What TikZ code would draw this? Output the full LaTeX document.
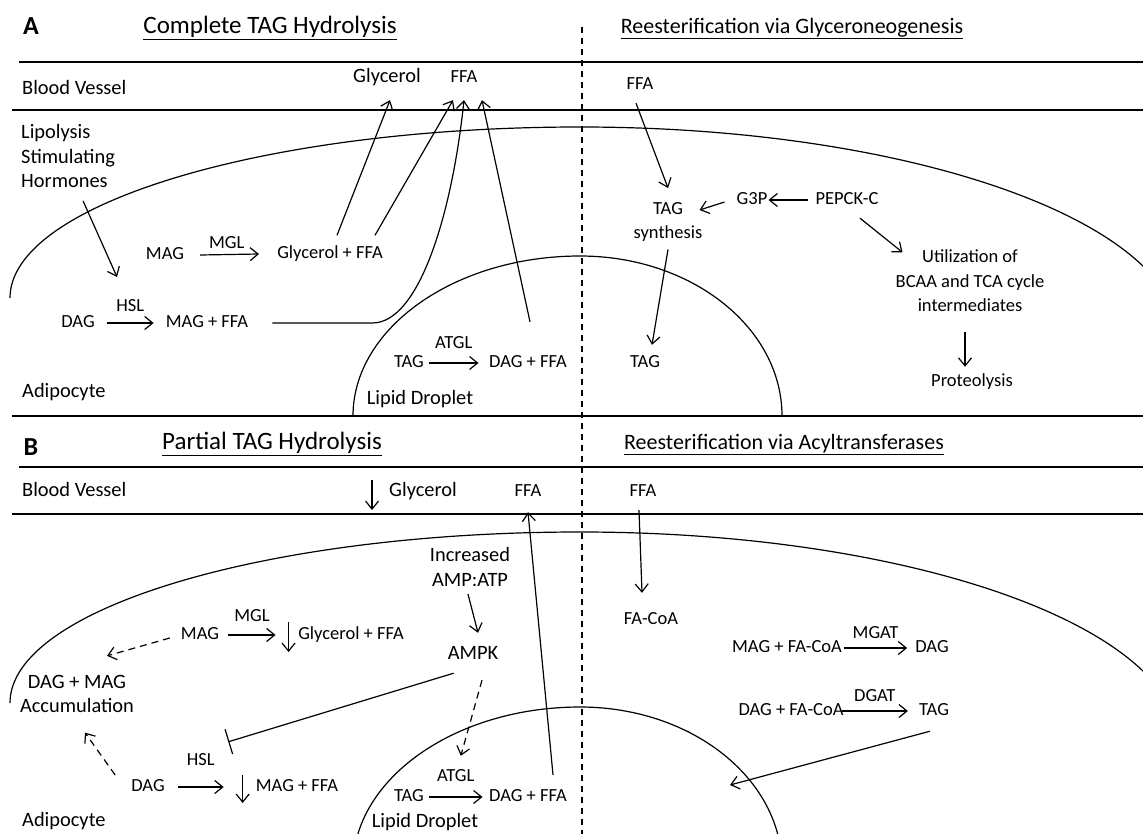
\documentclass[tikz,border=0pt]{standalone}
\usepackage{fontspec}
\setmainfont{Carlito}
\usetikzlibrary{arrows.meta}
\newcommand\bodysize{\fontsize{18.5}{24.5}\selectfont}
\newcommand\bigsize{\fontsize{20.4}{24.5}\selectfont}
\newcommand\titlesize{\fontsize{25}{30}\selectfont}
\newcommand\subtitlesize{\fontsize{22}{28}\selectfont}

\begin{document}
\begin{tikzpicture}[x=1pt, y=-1pt,
    lbl/.style={font=\bodysize, inner sep=0pt, text height=13pt, text depth=4pt},
    reg/.style={lbl, font=\bigsize},
    blk/.style={font=\bodysize, inner sep=0pt, align=center},
    ttl/.style={font=\titlesize, inner sep=0pt, text height=17pt, text depth=6pt},
    sttl/.style={ttl, font=\subtitlesize},
    pnl/.style={font=\fontsize{26}{30}\selectfont\bfseries, inner sep=0pt},
    arr/.style={-{Straight Barb[length=8pt,width=13pt]}, line width=1.2pt},
    darr/.style={arr, dash pattern=on 7pt off 5pt},
    inh/.style={-{Bar[width=26pt]}, line width=1.2pt},
    mem/.style={line width=1.2pt},
]
\useasboundingbox (0,0) rectangle (1143,834);
\clip (0,0) rectangle (1143,834);

% frame lines
\draw[mem] (19,62) -- (1143,62);
\draw[mem] (12,110) -- (1143,110);
\draw[mem] (12,416) -- (1143,416);
\draw[mem] (19,467) -- (1143,467);
\draw[mem] (12,514) -- (1143,514);
\draw[mem, dash pattern=on 6pt off 5pt] (582,27) -- (582,834);

% cell membranes and lipid droplets
\draw[mem] (10,298) .. controls (10,204) and (265,127) .. (580,127)
    .. controls (911,127) and (1180,222) .. (1180,340);
\draw[mem] (10,703) .. controls (10,609) and (265,532) .. (580,532)
    .. controls (911,532) and (1180,627) .. (1180,745);
\draw[mem] (353,416) .. controls (353,328) and (455,256) .. (580,256)
    .. controls (692,256) and (782,328) .. (782,416);
\draw[mem] (353,867) .. controls (353,779) and (455,707) .. (580,707)
    .. controls (692,707) and (782,779) .. (782,867);

% ---------------- Panel A ----------------
\node[pnl] (pa) at (31,26) {A};
\node[ttl] (ta1) at (270,28) {\underline{Complete TAG Hydrolysis}};
\node[sttl] (ta2) at (792,28) {\underline{Reesterification via Glyceroneogenesis}};
\node[reg, anchor=west] (bvA) at (22,90) {Blood Vessel};
\node[blk, font=\bigsize, align=left, anchor=west] (lshA) at (21,156) {Lipolysis\\Stimulating\\Hormones};
\node[reg] (glyA) at (387,78) {Glycerol};
\node[lbl] (ffaA) at (464,78) {FFA};
\node[lbl] (magA) at (165,255) {MAG};
\node[lbl] (gfA) at (330,254) {Glycerol + FFA};
\node[lbl] (dagA) at (78,323) {DAG};
\node[lbl] (mfA) at (207,323) {MAG + FFA};
\node[reg, anchor=west] (adA) at (22,393) {Adipocyte};
\node[lbl] (tagA) at (409,363) {TAG};
\node[lbl] (dfA) at (528,363) {DAG + FFA};
\node[reg] (ldA) at (420,400) {Lipid Droplet};
\coordinate (lipA) at (117,277);

\node[lbl] (ffaA2) at (640,85) {FFA};
\node[blk] (tsA) at (668,222) {TAG\\synthesis};
\node[lbl] (g3p) at (752,200) {G3P};
\node[lbl] (pep) at (847,200) {PEPCK-C};
\node[blk] (util) at (970,281) {Utilization of\\BCAA and TCA cycle\\intermediates};
\node[lbl] (prot) at (972,382) {Proteolysis};
\node[lbl] (tagA2) at (645,363) {TAG};

\draw[arr] ([xshift=15pt,yshift=-13pt]lshA.south) -- (lipA);
\draw[arr] ([xshift=16pt]magA.east) -- node[lbl, above=1.5pt, pos=0.45] {MGL} ([xshift=-18pt]gfA.west);
\draw[arr] ([xshift=12pt]dagA.east) -- node[lbl, above=6.5pt] {HSL} ([xshift=-12pt]mfA.west);
\draw[arr] ([xshift=5pt]tagA.east) -- node[lbl, above=10pt] {ATGL} ([xshift=-10.5pt]dfA.west);
\draw[arr] ([xshift=7pt,yshift=10pt]gfA.north) -- ([xshift=3pt,yshift=-13.5pt]glyA.south);
\draw[arr] ([xshift=45pt,yshift=10pt]gfA.north) -- ([xshift=-11pt,yshift=-13.5pt]ffaA.south);
\draw[arr] ([xshift=24pt]mfA.east) -- ++(100,0)
    to[out=0, in=-96, out looseness=0.5, in looseness=1.2] ([yshift=-13.5pt]ffaA.south);
\draw[arr] ([xshift=2pt,yshift=32.5pt]dfA.north) -- ([xshift=18pt,yshift=-13.5pt]ffaA.south);

\draw[arr] ([xshift=-4pt,yshift=-9.5pt]ffaA2.south) -- ([yshift=14pt]tsA.north);
\draw[arr] ([xshift=-12pt,yshift=-2pt]g3p.west) -- ([xshift=-3pt,yshift=12pt]tsA.east);
\draw[arr] ([xshift=-7pt]pep.west) -- ([xshift=1pt]g3p.east);
\draw[arr] ([xshift=13pt,yshift=-9.5pt]pep.south) -- ([xshift=7pt,yshift=-2.5pt]util.north west);
\draw[arr] ([xshift=-5pt,yshift=-20pt]util.south) -- ([xshift=-7pt,yshift=6.5pt]prot.north);
\draw[arr] ([yshift=-7.5pt]tsA.south) -- ([xshift=7pt,yshift=9.5pt]tagA2.north);

% ---------------- Panel B ----------------
\node[pnl] (pb) at (31,447) {B};
\node[ttl] (tb1) at (272,444) {\underline{Partial TAG Hydrolysis}};
\node[sttl] (tb2) at (784,444) {\underline{Reesterification via Acyltransferases}};
\node[reg, anchor=west] (bvB) at (22,492) {Blood Vessel};
\node[reg] (glyB) at (423,492) {Glycerol};
\node[lbl] (ffaB) at (528,492) {FFA};
\node[blk, font=\bigsize] (incB) at (470,567) {Increased\\AMP:ATP};
\node[reg] (ampk) at (473,655) {AMPK};
\node[lbl] (magB) at (200,635) {MAG};
\node[lbl] (gfB) at (351,635) {Glycerol + FFA};
\node[blk, font=\bigsize] (accB) at (77,694) {DAG + MAG\\Accumulation};
\node[lbl] (dagB) at (148,787) {DAG};
\node[lbl] (mfB) at (297,787) {MAG + FFA};
\node[reg, anchor=west] (adB) at (22,822) {Adipocyte};
\node[lbl] (tagB) at (409,797) {TAG};
\node[lbl] (dfB) at (528,797) {DAG + FFA};
\node[reg] (ldB) at (425,823) {Lipid Droplet};

\node[lbl] (ffaB2) at (643,492) {FFA};
\node[lbl] (facoa) at (651,620) {FA-CoA};
\node[lbl] (mgB) at (787,648) {MAG + FA-CoA};
\node[lbl] (dagB2) at (932,648) {DAG};
\node[lbl] (dgB) at (791,711) {DAG + FA-CoA};
\node[lbl] (tagB2) at (934,711) {TAG};
\coordinate (ldin) at (730,785);

\draw[arr] ([xshift=-17pt,yshift=12pt]glyB.west) -- ([xshift=-17pt,yshift=-18pt]glyB.west);
\draw[arr] ([xshift=-2pt,yshift=-7.5pt]incB.south) -- ([xshift=5pt,yshift=13.5pt]ampk.north);
\draw[arr] ([xshift=9pt]magB.east) -- node[lbl, above=8.5pt] {MGL} ([xshift=-22.5pt]gfB.west);
\draw[arr] ([xshift=-9.5pt,yshift=13pt]gfB.west) -- ([xshift=-9.5pt,yshift=-17pt]gfB.west);
\draw[darr] ([xshift=-11pt,yshift=-3pt]magB.west) -- ([xshift=30pt,yshift=19pt]accB.north);
\draw[darr] ([xshift=-16pt,yshift=12pt]dagB.west) -- ([xshift=8pt,yshift=-19.5pt]accB.south);
\draw[arr] ([xshift=13pt]dagB.east) -- node[lbl, above=16.5pt] (hslB) {HSL} ([xshift=-32pt]mfB.west);
\draw[arr] ([xshift=-13pt,yshift=12pt]mfB.west) -- ([xshift=-13pt,yshift=-16pt]mfB.west);
\draw[arr] ([xshift=5pt]tagB.east) -- node[lbl, above=10.5pt] (atglB) {ATGL} ([xshift=-6.5pt]dfB.west);
\draw[inh] ([xshift=6pt,yshift=-9.5pt]ampk.south west) -- ([xshift=13pt,yshift=10.5pt]hslB.north east);
\draw[darr] ([xshift=9pt,yshift=-16.5pt]ampk.south) -- ([xshift=5pt,yshift=12.5pt]atglB.north);
\draw[arr] ([xshift=25pt,yshift=13.5pt]dfB.north) -- ([yshift=-11.5pt]ffaB.south);

\draw[arr] ([xshift=-4pt,yshift=-9.5pt]ffaB2.south) -- ([xshift=-9pt,yshift=18.5pt]facoa.north);
\draw[arr] ([xshift=2pt]mgB.east) -- node[lbl, above=4.5pt] {MGAT} ([xshift=-8pt]dagB2.west);
\draw[arr] ([xshift=-2pt]dgB.east) -- node[lbl, above=4.5pt] {DGAT} ([xshift=-11pt]tagB2.west);
\draw[arr] ([xshift=-4pt,yshift=-11.5pt]tagB2.south) -- (ldin);
\end{tikzpicture}
\end{document}
